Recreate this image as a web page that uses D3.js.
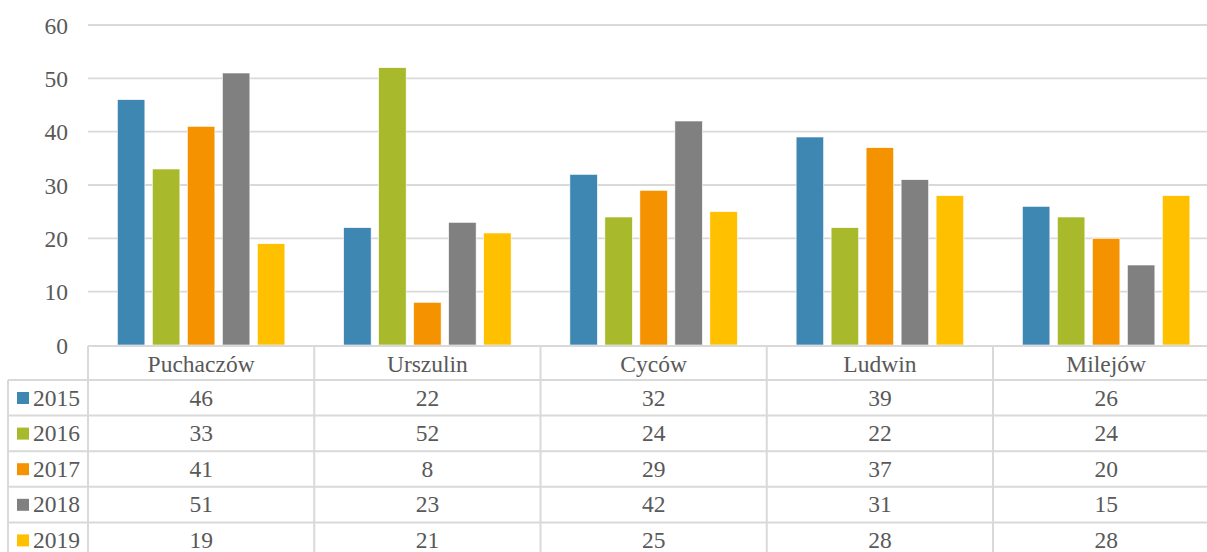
<!DOCTYPE html>
<html>
<head>
<meta charset="utf-8">
<script src="https://cdn.jsdelivr.net/npm/d3@7"></script>
<style>
  html, body { margin: 0; padding: 0; background: #fff; overflow: hidden; }
  svg { display: block; }
  text { font-family: "Liberation Serif", "Times New Roman", serif; fill: #595959; }
</style>
</head>
<body>
<svg id="chart" width="1207" height="552"></svg>
<script>
const categories = ["Puchaczów", "Urszulin", "Cyców", "Ludwin", "Milejów"];
const years = ["2015", "2016", "2017", "2018", "2019"];
const values2015 = [46, 22, 32, 39, 26];
const values2016 = [33, 52, 24, 22, 24];
const values2017 = [41, 8, 29, 37, 20];
const values2018 = [51, 23, 42, 31, 15];
const values2019 = [19, 21, 25, 28, 28];
const yTicks = [0, 10, 20, 30, 40, 50, 60];
const colors = ["#3F87B3", "#A8B92B", "#F59200", "#808080", "#FFC000"];

const series = [values2015, values2016, values2017, values2018, values2019];

const W = 1207, H = 552;
const left = 88, bandW = 226.25;
const svg = d3.select("#chart");
const gridColor = "#D9D9D9";
const FS = 23.5;

const x0 = d3.scaleBand().domain(categories).range([left, left + bandW * categories.length]).paddingInner(0).paddingOuter(0);
const x1 = d3.scaleBand().domain(years).range([0, 167.5]).paddingInner(0.214).paddingOuter(0);
const groupOffset = (x0.bandwidth() - 167.5) / 2;
const y = d3.scaleLinear().domain([0, 60]).range([345, 25]);

// gridlines
svg.append("g").selectAll("line").data(yTicks.filter(t => t > 0)).join("line")
  .attr("x1", left).attr("x2", W)
  .attr("y1", d => y(d)).attr("y2", d => y(d))
  .attr("stroke", gridColor).attr("stroke-width", 1.8);

// y labels
svg.append("g").selectAll("text").data(yTicks).join("text")
  .attr("x", 68).attr("y", d => y(d) + 8.5)
  .attr("text-anchor", "end").attr("font-size", FS)
  .text(d => d);

// bars
const groups = svg.append("g").selectAll("g").data(categories).join("g")
  .attr("transform", c => `translate(${x0(c) + groupOffset},0)`);
groups.selectAll("rect").data((c, ci) => years.map((yr, si) => ({ yr, si, v: series[si][ci] })))
  .join("rect")
  .attr("x", d => x1(d.yr))
  .attr("width", x1.bandwidth())
  .attr("y", d => y(d.v))
  .attr("height", d => y(0) - y(d.v))
  .attr("fill", d => colors[d.si])
  .attr("stroke", "#fff").attr("stroke-width", 0.6);

// data table
const tableTop = 346;
const headerH = 34;
const rowH = 35.6;
const legendLeft = 8;
const rightEdge = left + bandW * categories.length;
const tbl = svg.append("g");

tbl.append("line").attr("x1", left).attr("x2", rightEdge).attr("y1", tableTop).attr("y2", tableTop)
  .attr("stroke", gridColor).attr("stroke-width", 2);
const rowTops = years.map((yr, i) => tableTop + headerH + i * rowH);
tbl.selectAll("line.row").data(rowTops).join("line").attr("class", "row")
  .attr("x1", legendLeft).attr("x2", rightEdge)
  .attr("y1", d => d).attr("y2", d => d)
  .attr("stroke", gridColor).attr("stroke-width", 2);
tbl.append("line").attr("x1", legendLeft).attr("x2", rightEdge)
  .attr("y1", tableTop + headerH + years.length * rowH).attr("y2", tableTop + headerH + years.length * rowH)
  .attr("stroke", gridColor).attr("stroke-width", 2);

const colEdges = categories.map(c => x0(c)).concat([rightEdge]);
tbl.selectAll("line.col").data(colEdges).join("line").attr("class", "col")
  .attr("x1", d => d).attr("x2", d => d)
  .attr("y1", tableTop).attr("y2", H + 20)
  .attr("stroke", gridColor).attr("stroke-width", 2);
tbl.append("line").attr("x1", legendLeft).attr("x2", legendLeft)
  .attr("y1", tableTop + headerH).attr("y2", H + 20)
  .attr("stroke", gridColor).attr("stroke-width", 2);

// header labels
tbl.selectAll("text.hdr").data(categories).join("text").attr("class", "hdr")
  .attr("x", c => x0(c) + x0.bandwidth() / 2).attr("y", tableTop + 25.7)
  .attr("text-anchor", "middle").attr("font-size", FS)
  .text(c => c);

// rows
years.forEach((yr, si) => {
  const top = rowTops[si];
  tbl.append("rect").attr("x", 17).attr("y", top + 12).attr("width", 12).attr("height", 12)
    .attr("fill", colors[si]);
  tbl.append("text")
    .attr("x", 33).attr("y", top + 25.5)
    .attr("font-size", FS).text(yr);
  tbl.selectAll(null).data(categories).join("text")
    .attr("x", c => x0(c) + x0.bandwidth() / 2).attr("y", top + 25.5)
    .attr("text-anchor", "middle").attr("font-size", FS)
    .text((c, ci) => series[si][ci]);
});
</script>
</body>
</html>
